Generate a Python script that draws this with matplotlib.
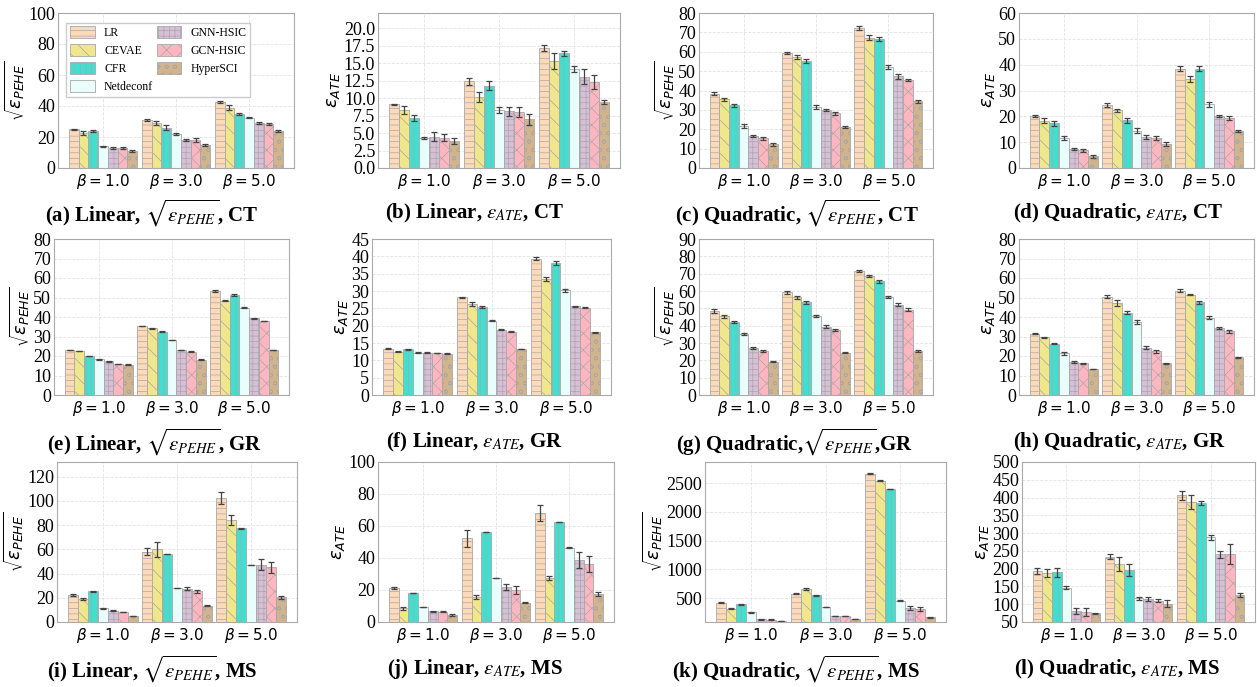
import numpy as np
import matplotlib

matplotlib.use("Agg")
import matplotlib.pyplot as plt

W, H = 1257, 687

METHODS = ["LR", "CEVAE", "CFR", "Netdeconf", "GNN-HSIC", "GCN-HSIC", "HyperSCI"]
COLORS = ["#FFDAB9", "#F0E68C", "#40E0D0", "#EAFDFD", "#D8BFD8", "#FFB6C1", "#D2B48C"]
HATCHES = ["---", "\\\\", "|||", "", "+++", "xx", "oo"]
BETAS = [r"$\beta = 1.0$", r"$\beta = 3.0$", r"$\beta = 5.0$"]

# rows = beta 1/3/5, columns = methods
A_MEAN = [[25, 22.5, 24, 14, 13, 13, 11], [31, 29, 26, 22, 18, 18, 15], [42.5, 39, 35, 32.5, 29, 28.5, 24]]
A_ERR = [[0.3, 1.2, 0.6, 0.3, 0.8, 0.6, 0.4], [0.4, 1.5, 1.5, 0.8, 0.5, 1.3, 0.5], [0.6, 1.5, 0.6, 0.5, 0.6, 0.6, 0.5]]
B_MEAN = [[9.1, 8.3, 7.2, 4.3, 4.5, 4.3, 3.9], [12.4, 10.2, 11.8, 8.3, 8.1, 8.0, 7.0], [17.2, 15.3, 16.4, 14.2, 13.1, 12.3, 9.5]]
B_ERR = [[0.1, 0.6, 0.4, 0.1, 0.6, 0.5, 0.4], [0.5, 0.7, 0.6, 0.4, 0.7, 0.7, 0.8], [0.4, 1.1, 0.3, 0.4, 1.1, 1.0, 0.3]]
C_MEAN = [[38.3, 35.5, 32.3, 21.5, 16.5, 15.3, 12.3], [59.5, 57.3, 55.3, 31.5, 30, 28.3, 21.4], [72.3, 67.3, 66.5, 52.3, 47.3, 45.5, 34.5]]
C_ERR = [[0.7, 0.7, 0.9, 1.0, 0.7, 0.9, 0.7], [0.6, 0.9, 0.9, 1.0, 0.7, 0.8, 0.5], [0.9, 1.2, 1.0, 1.1, 1.3, 0.6, 0.8]]
D_MEAN = [[20.3, 18.3, 17.3, 11.5, 7.3, 6.8, 4.5], [24.5, 22.3, 18.5, 14.5, 12, 11.5, 9.3], [38.5, 34.5, 38.5, 24.7, 20.3, 19.5, 14.3]]
D_ERR = [[0.4, 1.0, 0.9, 0.8, 0.4, 0.5, 0.5], [0.8, 0.7, 1.0, 1.0, 0.6, 0.8, 0.8], [0.8, 1.1, 1.0, 1.0, 0.4, 0.8, 0.3]]
E_MEAN = [[23, 22.5, 20.1, 18.3, 17.2, 16, 15.6], [35.5, 34.2, 32.5, 28.2, 23.2, 22.3, 18.2], [53.3, 48.3, 51.3, 44.8, 39.3, 38.1, 23.2]]
E_ERR = [[0.1, 0.1, 0.1, 0.2, 0.2, 0.1, 0.2], [0.1, 0.3, 0.4, 0.1, 0.1, 0.1, 0.2], [0.4, 0.3, 0.6, 0.4, 0.2, 0.1, 0.1]]
F_MEAN = [[13.4, 12.5, 13.2, 12.2, 12.2, 12.1, 11.9], [28.2, 26.3, 25.3, 21.4, 18.8, 18.3, 13.3], [39.3, 33.5, 38.0, 30.2, 25.6, 25.2, 18.1]]
F_ERR = [[0.2, 0.1, 0.2, 0.1, 0.1, 0.1, 0.2], [0.1, 0.5, 0.3, 0.1, 0.1, 0.1, 0.1], [0.4, 0.5, 0.6, 0.4, 0.1, 0.2, 0.1]]
G_MEAN = [[48.5, 45.3, 41.9, 35.3, 27.3, 25.5, 19.3], [59.3, 56.3, 53.5, 45.5, 39.3, 37.5, 24.5], [71.5, 68.5, 65.5, 56.5, 52, 49.3, 25.5]]
G_ERR = [[1.0, 0.8, 0.6, 0.7, 0.5, 0.7, 0.5], [0.8, 0.8, 0.8, 0.7, 0.9, 0.8, 0.4], [0.8, 0.7, 0.9, 0.7, 0.9, 0.9, 0.6]]
H_MEAN = [[31.5, 29.5, 26.3, 21.3, 17.0, 16.3, 13.3], [50.5, 47.3, 42.3, 37.5, 24.3, 22.5, 16.3], [53.5, 51.5, 47.5, 39.7, 34.3, 32.7, 19.3]]
H_ERR = [[0.3, 0.4, 0.4, 0.7, 0.4, 0.3, 0.2], [1.0, 1.5, 1.0, 1.2, 0.7, 0.8, 0.2], [0.9, 0.4, 0.9, 0.9, 0.6, 0.7, 0.2]]
I_MEAN = [[22.5, 19.3, 25.2, 11.2, 9.3, 8.3, 5.0], [58, 60, 56, 28.3, 27.5, 25.3, 13.5], [102, 84, 77.3, 47.2, 47.3, 45, 20.5]]
I_ERR = [[0.8, 0.9, 0.1, 0.1, 0.3, 0.3, 0.2], [3, 6, 0.1, 0.1, 1.5, 1.5, 0.3], [5, 4, 0.2, 0.1, 4.5, 4.5, 1.2]]
J_MEAN = [[21.3, 8.5, 18.2, 9.3, 6.8, 6.5, 4.3], [52.3, 15.8, 56.1, 27.5, 22, 20.3, 12.1], [68, 27.5, 62.5, 46.5, 39, 36.3, 17.5]]
J_ERR = [[0.8, 0.7, 0.1, 0.1, 0.3, 0.5, 0.6], [5.5, 1.2, 0.1, 0.2, 2, 2.5, 0.2], [5, 1.5, 0.2, 0.1, 5, 5, 1]]
K_MEAN = [[420, 320, 395, 255, 135, 130, 100], [580, 660, 550, 345, 190, 190, 140], [2660, 2540, 2395, 460, 330, 320, 170]]
K_ERR = [[10, 5, 10, 5, 5, 5, 3], [8, 10, 15, 5, 3, 3, 5], [8, 5, 5, 5, 30, 35, 5]]
L_MEAN = [[193, 188, 190, 147, 80, 78, 74], [234, 214, 197, 117, 114, 110, 102], [406, 387, 384, 288, 241, 240, 126]]
L_ERR = [[8, 12, 13, 3, 8, 12, 2], [8, 20, 17, 4, 5, 4, 9], [12, 20, 6, 8, 10, 28, 6]]

PEHE = r"$\sqrt{\varepsilon_{PEHE}}$"
ATE = r"$\varepsilon_{ATE}$"

# (mean, err, ylabel, ylim, yticks, caption, axes px box (l, r, t, b), caption centre x, y)
PANELS = [
    (A_MEAN, A_ERR, PEHE, (0, 100), np.arange(0, 101, 20), "(a) Linear, $\\sqrt{\\epsilon_{PEHE}}$, CT", (58, 294, 13, 168), 152, 213),
    (B_MEAN, B_ERR, ATE, (0, 22.2), np.arange(0, 20.1, 2.5), "(b) Linear, $\\epsilon_{ATE}$, CT", (378, 620, 13, 168), 474, 213),
    (C_MEAN, C_ERR, PEHE, (0, 80), np.arange(0, 81, 10), "(c) Quadratic, $\\sqrt{\\epsilon_{PEHE}}$, CT", (699, 933, 13, 168), 797, 213),
    (D_MEAN, D_ERR, ATE, (0, 60), np.arange(0, 61, 10), "(d) Quadratic, $\\epsilon_{ATE}$, CT", (1019, 1254, 13, 168), 1118, 213),
    (E_MEAN, E_ERR, PEHE, (0, 80), np.arange(0, 81, 10), "(e) Linear, $\\sqrt{\\epsilon_{PEHE}}$, GR", (54, 289, 239, 395), 155, 442),
    (F_MEAN, F_ERR, ATE, (0, 45), np.arange(0, 46, 5), "(f) Linear, $\\epsilon_{ATE}$, GR", (372, 611, 239, 395), 474, 442),
    (G_MEAN, G_ERR, PEHE, (0, 90), np.arange(0, 91, 10), "(g) Quadratic,$\\sqrt{\\epsilon_{PEHE}}$,GR", (699, 933, 239, 395), 795, 442),
    (H_MEAN, H_ERR, ATE, (0, 80), np.arange(0, 81, 10), "(h) Quadratic, $\\epsilon_{ATE}$, GR", (1019, 1254, 239, 395), 1119, 442),
    (I_MEAN, I_ERR, PEHE, (0, 132), np.arange(0, 121, 20), "(i) Linear, $\\sqrt{\\epsilon_{PEHE}}$, MS", (57, 297, 462, 622), 152, 669),
    (J_MEAN, J_ERR, ATE, (0, 100), np.arange(0, 101, 20), "(j) Linear, $\\epsilon_{ATE}$, MS", (378, 614, 462, 622), 475, 669),
    (K_MEAN, K_ERR, PEHE, (88, 2865), np.arange(500, 2501, 500), "(k) Quadratic, $\\sqrt{\\epsilon_{PEHE}}$, MS", (705, 946, 462, 622), 796, 669),
    (L_MEAN, L_ERR, ATE, (50, 500), np.arange(50, 501, 50), "(l) Quadratic, $\\epsilon_{ATE}$, MS", (1022, 1255, 462, 622), 1117, 669),
]

plt.rcParams["hatch.linewidth"] = 0.5
plt.rcParams["font.family"] = ["Liberation Serif", "DejaVu Serif"]

fig = plt.figure(figsize=(W / 100, H / 100), dpi=100)
width = 0.134
x = np.arange(3)

for k, (mean, err, ylab, ylim, yticks, cap, box, cx, cy) in enumerate(PANELS):
    l, r, t, b = box
    ax = fig.add_axes([l / W, 1 - b / H, (r - l) / W, (b - t) / H])
    mean = np.array(mean)
    err = np.array(err)
    for j, name in enumerate(METHODS):
        ax.bar(x + (j - 3) * width, mean[:, j], width, yerr=err[:, j], color=COLORS[j],
               hatch=HATCHES[j], edgecolor="#a8a8a8", linewidth=0.6, label=name,
               error_kw=dict(ecolor="#444444", elinewidth=0.9, capsize=2, capthick=0.9))
    ax.set_ylim(*ylim)
    ax.set_yticks(yticks)
    if k == 1:
        ax.set_yticklabels([f"{v:.1f}" for v in yticks])
    ax.set_xticks(x)
    ax.set_xticklabels(BETAS, fontsize=11, math_fontfamily="dejavusans")
    ax.tick_params(axis="y", labelsize=13, length=0, pad=2)
    ax.tick_params(axis="x", length=0, pad=3)
    ax.set_ylabel(ylab, fontsize=13, math_fontfamily="dejavusans", labelpad=1)
    ax.grid(True, ls="--", lw=0.6, color="#e3e3e3")
    ax.set_axisbelow(True)
    for s in ax.spines.values():
        s.set_color("#aaaaaa")
    if k == 0:
        ax.legend(ncol=2, loc="upper left", fontsize=8.5, handlelength=2.1, handleheight=1.1,
                  labelspacing=0.45, columnspacing=0.3, borderpad=0.3, handletextpad=0.8,
                  edgecolor="#cccccc", fancybox=False, framealpha=1,
                  bbox_to_anchor=(0.01, 0.975))
    fig.text(cx / W, 1 - cy / H, cap, ha="center", va="center", fontsize=15,
             fontweight="bold", math_fontfamily="stix")

fig.savefig("out.png", dpi=100)
